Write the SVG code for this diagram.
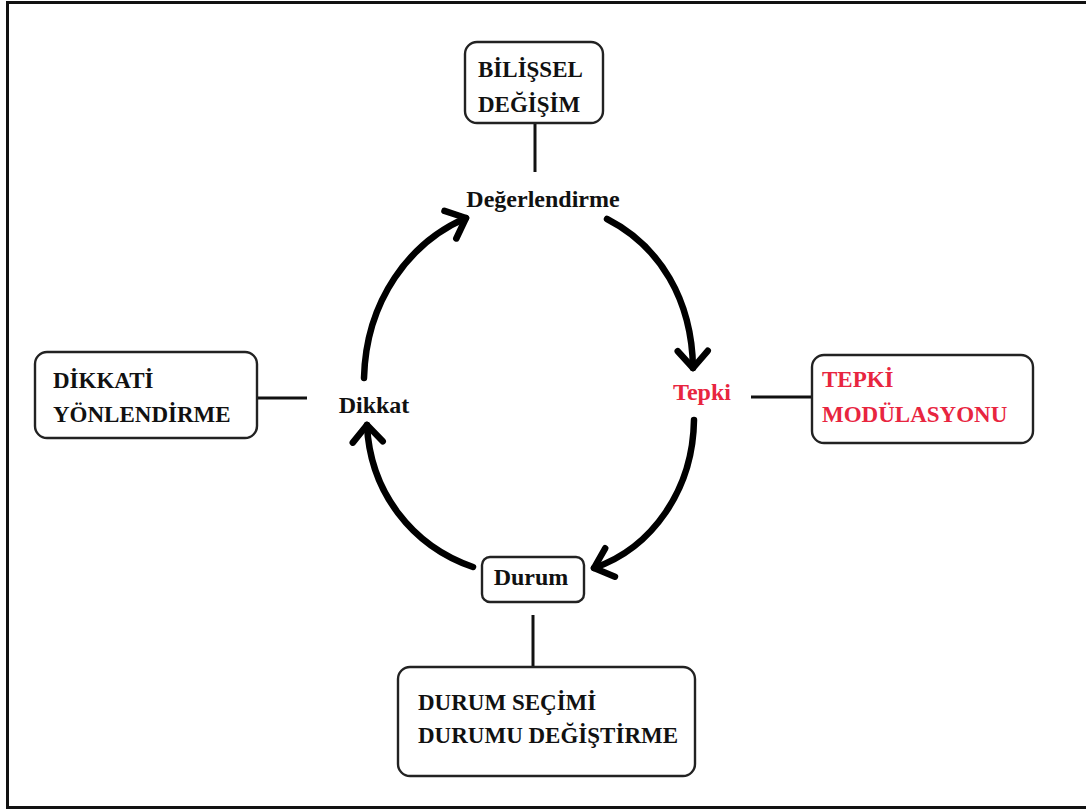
<svg xmlns="http://www.w3.org/2000/svg" width="1086" height="810" viewBox="0 0 1086 810">
<style>
.box{fill:#fff;stroke:#222;stroke-width:2.4}
.t{font-family:'Liberation Serif','DejaVu Serif',serif;font-weight:700;font-size:23px;fill:#111}
.lbl{font-size:24px}
.red{fill:#e8253f}
.conn{stroke:#111;stroke-width:3;fill:none}
.arc{stroke:#000;stroke-width:6.5;fill:none;stroke-linecap:round;marker-end:url(#chev)}
</style>
<defs>
<marker id="chev" markerUnits="userSpaceOnUse" orient="auto" refX="0" refY="0" markerWidth="40" markerHeight="40" viewBox="-25 -20 35 40" overflow="visible">
<path d="M-17,-15 L0,0 L-17,15" fill="none" stroke="#000" stroke-width="6.5" stroke-linecap="round" stroke-linejoin="round"/>
</marker>
</defs>
<rect x="0" y="0" width="1086" height="810" fill="#fff"/>
<rect id="frame" x="7.5" y="2.5" width="1090" height="805" fill="none" stroke="#111" stroke-width="3"/>
<g id="connectors">
<line class="conn" x1="535" y1="123" x2="535" y2="172"/>
<line class="conn" x1="257" y1="398" x2="307" y2="398"/>
<line class="conn" x1="751" y1="397" x2="812" y2="397"/>
<line class="conn" x1="533" y1="615" x2="533" y2="667"/>
<path class="arc" d="M364,378 C366,300 410,242 466,218"/>
<path class="arc" d="M607,219 C660,246 692,300 693,368"/>
<path class="arc" d="M694,420 C693,490 652,548 594,568"/>
<path class="arc" d="M473,567 C412,546 370,492 367,425"/>
</g>
<g id="bilissel">
<rect class="box" x="465" y="42" width="138" height="81" rx="12"/>
<text class="t" x="478" y="77">BİLİŞSEL</text>
<text class="t" x="478" y="112">DEĞİŞİM</text>
</g>
<g id="dikkati">
<rect class="box" x="35" y="352" width="222" height="86" rx="12"/>
<text class="t" x="53" y="388">DİKKATİ</text>
<text class="t" x="53" y="422">YÖNLENDİRME</text>
</g>
<g id="tepkimod">
<rect class="box" x="812" y="355" width="221" height="88" rx="12"/>
<text class="t red" x="822" y="387">TEPKİ</text>
<text class="t red" x="822" y="422">MODÜLASYONU</text>
</g>
<g id="durumsecimi">
<rect class="box" x="398" y="667" width="297" height="109" rx="12"/>
<text class="t" x="418" y="710">DURUM SEÇİMİ</text>
<text class="t" x="418" y="743">DURUMU DEĞİŞTİRME</text>
</g>
<g id="degerlendirme">
<text class="t lbl" x="543" y="207" text-anchor="middle">Değerlendirme</text>
</g>
<g id="tepki">
<text class="t lbl red" x="702" y="400" text-anchor="middle">Tepki</text>
</g>
<g id="dikkat">
<text class="t lbl" x="374" y="413" text-anchor="middle">Dikkat</text>
</g>
<g id="durum">
<rect class="box" x="482" y="557" width="102" height="45" rx="8"/>
<text class="t lbl" x="531" y="585" text-anchor="middle">Durum</text>
</g>
</svg>
